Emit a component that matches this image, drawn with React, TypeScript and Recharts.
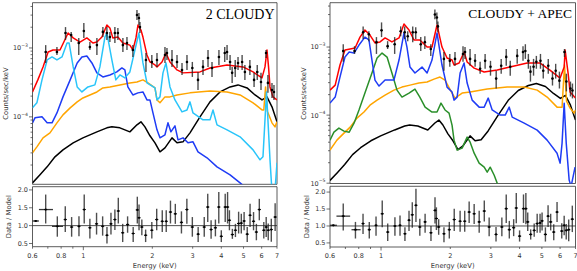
import React from 'react';
import { ComposedChart, Line, Scatter, XAxis, YAxis, ErrorBar, ReferenceLine, ReferenceArea } from 'recharts';

type P = [number, number];
type D = [number, number, number, number];

// ---------- tick labels ----------
const energyTicks = [0.6, 0.7, 0.8, 0.9, 1, 2, 3, 4, 5, 6, 7];
const energyLabels = [0.6, 0.8, 1, 2, 3, 4, 5, 6, 7];
const countTicksLeft = [2e-5, 3e-5, 4e-5, 5e-5, 6e-5, 7e-5, 8e-5, 9e-5, 1e-4, 2e-4, 3e-4, 4e-4, 5e-4, 6e-4, 7e-4, 8e-4, 9e-4, 1e-3, 2e-3, 3e-3, 4e-3];
const countTicksRight = [1e-5, ...countTicksLeft];
const ratioTicks = [0.5, 1.0, 1.5, 2.0];

// ---------- model components (E keV, counts/sec/keV) ----------
const blackModel: P[] = [
  [0.6, 1.1e-5], [0.647, 1.44e-5], [0.695, 1.88e-5], [0.752, 2.63e-5], [0.815, 3.32e-5], [0.903, 4.2e-5],
  [0.996, 4.96e-5], [1.146, 6.06e-5], [1.267, 6.93e-5], [1.332, 7.16e-5], [1.444, 6.93e-5], [1.596, 6.06e-5],
  [1.714, 7.66e-5], [1.784, 8.47e-5], [1.857, 7.16e-5], [1.953, 5.31e-5], [2.054, 4.2e-5], [2.16, 3.11e-5],
  [2.271, 3.55e-5], [2.437, 4.96e-5], [2.563, 4.2e-5], [2.722, 4.34e-5], [2.92, 5.86e-5], [3.229, 1.0e-4],
  [3.57, 1.65e-4], [3.948, 2.3e-4], [4.368, 2.72e-4], [4.732, 2.91e-4], [5.181, 2.63e-4], [5.615, 2.08e-4],
  [6.02, 1.76e-4], [6.33, 1.95e-4], [6.656, 1.4e-4], [7.0, 8.47e-5],
];

const orangeLeft: P[] = [
  [0.6, 3.01e-5], [0.627, 3.67e-5], [0.667, 4.96e-5], [0.715, 5.86e-5], [0.767, 8.19e-5], [0.815, 1.07e-4],
  [0.876, 1.35e-4], [0.94, 1.65e-4], [0.996, 1.88e-4], [1.068, 2.08e-4], [1.146, 2.3e-4], [1.217, 2.63e-4],
  [1.306, 2.72e-4], [1.444, 2.91e-4], [1.596, 3.11e-4], [1.714, 3.21e-4], [1.82, 3.44e-4], [1.914, 3.11e-4],
  [2.054, 2.63e-4], [2.096, 1.76e-4], [2.16, 1.6e-4], [2.271, 1.95e-4], [2.388, 1.95e-4], [2.563, 2.08e-4],
  [2.92, 2.23e-4], [3.57, 2.38e-4], [4.238, 2.3e-4], [4.829, 2.08e-4], [5.503, 1.6e-4], [6.02, 1.26e-4],
  [6.13, 1.26e-4], [6.24, 2.72e-4], [6.36, 1.2e-4], [6.656, 8.19e-5], [6.86, 7.16e-5], [7.0, 8.47e-5],
];

const orangeRight: P[] = [
  [0.6, 3.06e-5], [0.643, 4.29e-5], [0.69, 5.44e-5], [0.734, 6.66e-5], [0.786, 9.04e-5], [0.843, 1.11e-4],
  [0.895, 1.4e-4], [0.961, 1.66e-4], [1.041, 1.97e-4], [1.138, 2.33e-4], [1.233, 2.58e-4], [1.336, 2.76e-4],
  [1.461, 2.96e-4], [1.585, 3.06e-4], [1.699, 3.38e-4], [1.804, 3.62e-4], [1.897, 3.27e-4], [2.035, 2.11e-4],
  [2.097, 1.78e-4], [2.251, 2.11e-4], [2.439, 2.18e-4], [2.893, 2.41e-4], [3.534, 2.58e-4], [4.189, 2.58e-4],
  [4.77, 2.33e-4], [5.27, 1.84e-4], [5.82, 1.31e-4], [6.12, 1.31e-4], [6.27, 5.5e-4], [6.4, 1.6e-4],
  [6.63, 1.27e-4], [6.9, 1.07e-4], [7.0, 1.19e-4],
];

const redLeft: P[] = [
  [0.6, 2.3e-4], [0.633, 3.44e-4], [0.667, 5.31e-4], [0.702, 8.75e-4], [0.737, 9.35e-4], [0.791, 9.35e-4],
  [0.822, 1.22e-3], [0.858, 1.65e-3], [0.903, 1.4e-3], [0.967, 1.22e-3], [1.036, 1.4e-3], [1.101, 1.18e-3],
  [1.146, 1.22e-3], [1.205, 1.44e-3], [1.267, 2.15e-3], [1.306, 1.95e-3], [1.345, 1.4e-3], [1.415, 1.44e-3],
  [1.488, 1.18e-3], [1.596, 1.1e-3], [1.645, 9.35e-4], [1.697, 1.4e-3], [1.731, 2.15e-3], [1.784, 1.82e-3],
  [1.82, 1.44e-3], [1.895, 7.92e-4], [1.953, 6.27e-4], [2.054, 5.67e-4], [2.096, 5.31e-4], [2.204, 6.27e-4],
  [2.294, 8.47e-4], [2.388, 6.27e-4], [2.563, 4.8e-4], [2.722, 4.35e-4], [3.229, 4.49e-4], [3.57, 5.13e-4],
  [4.238, 5.67e-4], [4.977, 5.31e-4], [5.503, 4.49e-4], [6.02, 3.68e-4], [6.204, 5.31e-4], [6.33, 9.35e-4],
  [6.43, 5.31e-4], [6.524, 2.72e-4], [6.723, 1.95e-4], [7.0, 1.76e-4],
];

const redRight: P[] = [
  [0.6, 2.33e-4], [0.632, 2.76e-4], [0.663, 5.44e-4], [0.697, 9.04e-4], [0.734, 9.35e-4], [0.771, 9.67e-4],
  [0.81, 1.4e-3], [0.851, 1.78e-3], [0.895, 1.5e-3], [0.941, 1.15e-3], [0.99, 1.19e-3], [1.041, 1.36e-3],
  [1.115, 1.19e-3], [1.197, 1.36e-3], [1.258, 2.18e-3], [1.323, 1.78e-3], [1.39, 1.27e-3], [1.474, 1.27e-3],
  [1.585, 1.0e-3], [1.665, 1.0e-3], [1.751, 2.11e-3], [1.84, 1.0e-3], [1.936, 6.89e-4], [2.035, 6.44e-4],
  [2.076, 5.44e-4], [2.184, 5.82e-4], [2.296, 8.44e-4], [2.367, 6.02e-4], [2.539, 4.91e-4], [2.807, 4.29e-4],
  [3.198, 4.59e-4], [3.63, 5.08e-4], [4.316, 5.82e-4], [4.913, 5.82e-4], [5.42, 4.59e-4], [6.0, 3.5e-4],
  [6.25, 5.08e-4], [6.31, 9.04e-4], [6.5, 4.15e-4], [6.63, 2.18e-4], [7.0, 1.78e-4],
];

const cyanLeft: P[] = [
  [0.6, 1.35e-4], [0.627, 1.6e-4], [0.66, 3.44e-4], [0.695, 6.7e-4], [0.73, 7.41e-4], [0.767, 6.7e-4],
  [0.807, 7.41e-4], [0.849, 1.18e-3], [0.867, 1.18e-3], [0.903, 5.31e-4], [0.94, 2.72e-4], [0.986, 2.3e-4],
  [1.047, 2.72e-4], [1.123, 2.91e-4], [1.181, 5.31e-4], [1.242, 1.44e-3], [1.267, 1.65e-3], [1.332, 6.7e-4],
  [1.386, 3.44e-4], [1.444, 4.06e-4], [1.518, 3.68e-4], [1.596, 4.49e-4], [1.679, 9.35e-4], [1.748, 1.65e-3],
  [1.82, 6.06e-4], [1.895, 3.11e-4], [2.054, 2.63e-4], [2.096, 1.76e-4], [2.16, 1.95e-4], [2.226, 4.35e-4],
  [2.294, 6.06e-4], [2.388, 2.72e-4], [2.511, 1.76e-4], [2.695, 1.18e-4], [2.833, 1.26e-4], [2.92, 1.65e-4],
  [3.01, 1.14e-4], [3.328, 9.05e-5], [3.57, 9.05e-5], [3.68, 1.26e-4], [3.831, 7.66e-5], [4.238, 6.48e-5],
  [4.829, 5.13e-5], [5.503, 3.32e-5], [5.9, 2.38e-5], [6.08, 2.63e-5], [6.204, 9.05e-5], [6.3, 2.3e-4],
  [6.39, 9.05e-5], [6.524, 2.38e-5], [6.66, 8e-6], [6.85, 8e-6], [7.0, 2.15e-5],
];

const blueLeft: P[] = [
  [0.6, 8.19e-5], [0.615, 9.68e-5], [0.66, 1.0e-4], [0.695, 8.19e-5], [0.73, 8.19e-5], [0.767, 1.14e-4],
  [0.815, 1.95e-4], [0.876, 3.44e-4], [0.94, 6.06e-4], [0.986, 7.41e-4], [1.036, 7.66e-4], [1.09, 6.06e-4],
  [1.146, 4.35e-4], [1.217, 3.8e-4], [1.306, 4.06e-4], [1.4, 4.49e-4], [1.473, 5.13e-4], [1.518, 4.8e-4],
  [1.564, 2.72e-4], [1.645, 2.08e-4], [1.731, 2.23e-4], [1.82, 2.3e-4], [1.895, 1.76e-4], [1.953, 1.76e-4],
  [2.013, 1.14e-4], [2.096, 6.48e-5], [2.16, 4.96e-5], [2.271, 5.49e-5], [2.34, 8.19e-5], [2.41, 6.06e-5],
  [2.511, 7.41e-5], [2.589, 4.64e-5], [2.722, 4.96e-5], [2.862, 4.2e-5], [3.01, 4.34e-5], [3.165, 3.11e-5],
  [3.464, 2.55e-5], [3.831, 1.88e-5], [4.368, 1.44e-5], [4.829, 1.1e-5], [5.3, 8.5e-6],
];

const blueRight: P[] = [
  [0.6, 1.5e-4], [0.632, 1.84e-4], [0.663, 3.62e-4], [0.697, 7.13e-4], [0.727, 8.44e-4], [0.763, 8.16e-4],
  [0.802, 1.07e-3], [0.851, 1.4e-3], [0.886, 1.27e-3], [0.913, 6.44e-4], [0.941, 3.27e-4], [0.98, 2.67e-4],
  [1.041, 3.27e-4], [1.138, 3.27e-4], [1.197, 6.44e-4], [1.258, 1.61e-3], [1.296, 1.0e-3], [1.336, 5.08e-4],
  [1.404, 4.15e-4], [1.507, 5.08e-4], [1.585, 4.15e-4], [1.665, 6.44e-4], [1.751, 1.61e-3], [1.84, 5.44e-4],
  [1.936, 2.58e-4], [2.035, 2.18e-4], [2.076, 1.66e-4], [2.141, 1.84e-4], [2.206, 4.15e-4], [2.296, 5.82e-4],
  [2.367, 2.96e-4], [2.489, 1.66e-4], [2.669, 1.31e-4], [2.807, 1.31e-4], [2.922, 1.78e-4], [3.041, 1.19e-4],
  [3.295, 1.0e-4], [3.463, 1.0e-4], [3.606, 1.31e-4], [3.715, 9.35e-5], [4.189, 7.62e-5], [4.77, 6.02e-5],
  [5.27, 4.29e-5], [5.82, 2.76e-5], [6.0, 1.97e-5], [6.12, 3.88e-5], [6.25, 1.5e-4], [6.38, 3.88e-5],
  [6.57, 1.11e-5], [6.7, 9e-6], [6.97, 1.72e-5],
];

const greenRight: P[] = [
  [0.6, 4.29e-5], [0.624, 5.62e-5], [0.656, 6.44e-5], [0.69, 5.82e-5], [0.727, 5.62e-5], [0.763, 7.62e-5],
  [0.802, 1.19e-4], [0.851, 2.11e-4], [0.913, 4.15e-4], [0.961, 6.89e-4], [1.01, 8.16e-4], [1.062, 7.13e-4],
  [1.115, 4.15e-4], [1.173, 2.33e-4], [1.233, 1.84e-4], [1.323, 2.11e-4], [1.404, 2.41e-4], [1.474, 1.84e-4],
  [1.554, 1.31e-4], [1.665, 1.11e-4], [1.751, 1.11e-4], [1.822, 1.5e-4], [1.897, 1.19e-4], [1.975, 1.07e-4],
  [2.035, 7.13e-5], [2.076, 4.29e-5], [2.141, 3.06e-5], [2.251, 3.27e-5], [2.367, 4.75e-5], [2.439, 4.01e-5],
  [2.539, 2.76e-5], [2.669, 1.97e-5], [2.807, 1.72e-5], [2.893, 1.45e-5], [2.981, 1.72e-5], [3.103, 1.31e-5],
  [3.198, 1.0e-5], [3.26, 8e-6],
];

// ---------- observed spectrum: E, rate, lower, upper ----------
const spectrum: D[] = [
  [0.685, 8.75e-4, 6.06e-4, 1.1e-3], [0.767, 8.75e-4, 7.92e-4, 1.03e-3], [0.836, 1.65e-3, 1.31e-3, 2.01e-3],
  [0.885, 1.54e-3, 1.22e-3, 1.71e-3], [0.955, 1.18e-3, 7.92e-4, 1.4e-3], [1.005, 1.76e-3, 1.4e-3, 2.3e-3],
  [1.068, 1.03e-3, 9.35e-4, 1.22e-3], [1.146, 1.1e-3, 7.92e-4, 1.4e-3], [1.217, 1.71e-3, 1.44e-3, 2.01e-3],
  [1.267, 1.65e-3, 1.31e-3, 2.01e-3], [1.306, 1.44e-3, 1.22e-3, 1.71e-3], [1.373, 1.65e-3, 1.18e-3, 2.01e-3],
  [1.415, 1.65e-3, 1.31e-3, 1.95e-3], [1.488, 1.1e-3, 8.75e-4, 1.4e-3], [1.55, 1.18e-3, 9.35e-4, 1.44e-3],
  [1.645, 9.35e-4, 7.41e-4, 1.1e-3], [1.714, 3.01e-3, 2.55e-3, 3.56e-3], [1.748, 2.72e-3, 2.15e-3, 3.21e-3],
  [1.766, 2.01e-3, 1.65e-3, 2.38e-3], [1.876, 6.7e-4, 4.49e-4, 8.47e-4], [1.99, 6.27e-4, 5.13e-4, 7.92e-4],
  [2.096, 6.7e-4, 5.31e-4, 8.47e-4], [2.271, 7.92e-4, 6.06e-4, 1.03e-3], [2.317, 8.47e-4, 6.7e-4, 1.0e-3],
  [2.437, 6.7e-4, 5.31e-4, 9.35e-4], [2.563, 6.27e-4, 5.13e-4, 7.92e-4], [2.695, 4.8e-4, 4.06e-4, 6.06e-4],
  [2.833, 6.27e-4, 4.8e-4, 7.92e-4], [2.99, 5.13e-4, 3.8e-4, 6.27e-4], [3.165, 3.44e-4, 2.46e-4, 4.49e-4],
  [3.328, 5.31e-4, 4.06e-4, 6.7e-4], [3.5, 7.16e-4, 5.31e-4, 9.35e-4], [3.643, 5.13e-4, 3.8e-4, 6.27e-4],
  [3.906, 7.41e-4, 5.67e-4, 9.35e-4], [4.14, 8.47e-4, 6.27e-4, 1.03e-3], [4.238, 8.75e-4, 6.7e-4, 1.1e-3],
  [4.368, 6.27e-4, 4.8e-4, 7.92e-4], [4.46, 4.35e-4, 3.11e-4, 5.31e-4], [4.6, 5.13e-4, 3.8e-4, 6.7e-4],
  [4.732, 6.06e-4, 4.8e-4, 7.41e-4], [4.93, 6.27e-4, 4.8e-4, 7.92e-4], [5.07, 4.49e-4, 3.44e-4, 5.67e-4],
  [5.33, 5.31e-4, 4.06e-4, 6.7e-4], [5.56, 3.44e-4, 2.72e-4, 4.35e-4], [5.74, 4.49e-4, 3.44e-4, 5.67e-4],
  [5.96, 3.21e-4, 2.46e-4, 4.35e-4], [6.27, 8.47e-4, 7.16e-4, 9.35e-4], [6.39, 3.11e-4, 2.23e-4, 4.06e-4],
  [6.656, 2.46e-4, 1.88e-4, 3.11e-4], [6.79, 2.3e-4, 1.76e-4, 2.91e-4],
];

// ---------- residuals: E, ratio, lower, upper ----------
const residLeft: D[] = [
  [0.62, 1.13, 1.13, 1.13], [0.685, 1.45, 1.06, 1.87], [0.77, 0.98, 0.69, 1.26], [0.834, 1.17, 0.82, 1.54],
  [0.889, 0.96, 0.69, 1.24], [0.957, 0.98, 0.7, 1.26], [1.009, 1.45, 1.06, 1.87], [1.068, 0.94, 0.64, 1.19],
  [1.142, 1.05, 0.75, 1.36], [1.214, 0.98, 0.72, 1.26], [1.268, 0.73, 0.5, 0.96], [1.32, 1.05, 0.75, 1.36],
  [1.373, 1.17, 0.88, 1.45], [1.421, 1.41, 1.06, 1.78], [1.485, 0.8, 0.54, 1.05], [1.56, 1.03, 0.8, 1.26],
  [1.65, 0.78, 0.54, 0.96], [1.72, 1.44, 1.06, 1.81], [1.75, 1.22, 0.87, 1.59], [1.8, 0.96, 0.73, 1.17],
  [1.87, 0.73, 0.54, 0.89], [1.99, 0.87, 0.64, 1.1], [2.09, 1.17, 0.87, 1.47], [2.21, 1.12, 0.82, 1.43],
  [2.3, 1.12, 0.82, 1.43], [2.4, 1.38, 1.06, 1.7], [2.52, 1.33, 1.05, 1.61], [2.68, 1.09, 0.78, 1.4],
  [2.83, 1.45, 1.05, 1.75], [2.99, 0.96, 0.69, 1.24], [3.17, 0.76, 0.54, 0.96], [3.37, 0.96, 0.69, 1.24],
  [3.49, 1.52, 1.1, 1.89], [3.61, 0.89, 0.63, 1.15], [3.77, 0.94, 0.7, 1.17], [3.9, 1.52, 1.06, 1.94],
  [4.0, 0.7, 0.54, 0.87], [4.16, 1.52, 1.1, 1.89], [4.26, 1.52, 1.06, 1.94], [4.34, 1.15, 0.87, 1.43],
  [4.47, 0.75, 0.63, 0.91], [4.61, 0.87, 0.68, 1.05], [4.76, 1.06, 0.78, 1.39], [4.89, 1.07, 0.78, 1.33],
  [5.03, 1.13, 0.87, 1.38], [5.19, 0.76, 0.54, 0.96], [5.34, 1.29, 0.96, 1.61], [5.53, 1.12, 0.87, 1.38],
  [5.69, 0.82, 0.59, 1.05], [5.86, 1.45, 1.15, 1.75], [6.13, 0.87, 0.64, 1.1], [6.28, 0.96, 0.68, 1.24],
  [6.41, 0.87, 0.59, 1.06], [6.61, 0.89, 0.55, 1.19], [6.87, 1.24, 0.85, 1.63],
];
const residLeftBins: P[] = [[0.6, 0.64], [0.64, 0.737], [0.73, 0.815]];

const residRight: D[] = [
  [0.62, 1.02, 1.02, 1.02], [0.685, 1.29, 0.87, 1.66], [0.774, 0.89, 0.63, 1.12], [0.835, 1.07, 0.76, 1.36],
  [0.889, 0.89, 0.63, 1.12], [0.951, 1.02, 0.71, 1.28], [1.012, 1.36, 0.96, 1.75], [1.069, 0.82, 0.56, 1.07],
  [1.149, 1.0, 0.71, 1.26], [1.209, 1.02, 0.71, 1.31], [1.27, 0.77, 0.56, 0.96], [1.323, 1.17, 0.85, 1.45],
  [1.367, 1.33, 0.95, 1.7], [1.418, 1.61, 1.12, 2.1], [1.474, 0.97, 0.71, 1.21], [1.554, 1.12, 0.8, 1.36],
  [1.648, 0.8, 0.56, 1.0], [1.716, 1.46, 1.07, 1.85], [1.74, 1.22, 0.88, 1.55], [1.78, 0.97, 0.74, 1.2],
  [1.877, 0.77, 0.52, 0.96], [1.98, 0.89, 0.63, 1.12], [2.08, 1.19, 0.85, 1.51], [2.206, 1.14, 0.83, 1.45],
  [2.31, 1.14, 0.83, 1.45], [2.415, 1.41, 1.09, 1.72], [2.539, 1.36, 1.06, 1.65], [2.67, 1.12, 0.8, 1.45],
  [2.81, 1.44, 1.13, 1.75], [2.95, 0.97, 0.7, 1.25], [3.16, 0.75, 0.54, 0.97], [3.35, 0.97, 0.7, 1.25],
  [3.5, 1.51, 1.09, 1.93], [3.61, 0.89, 0.63, 1.15], [3.77, 0.95, 0.7, 1.2], [3.87, 1.53, 1.08, 1.97],
  [4.0, 0.7, 0.54, 0.87], [4.16, 1.51, 1.09, 1.93], [4.26, 1.51, 1.05, 1.97], [4.34, 1.12, 0.85, 1.4],
  [4.47, 0.75, 0.6, 0.9], [4.63, 0.87, 0.68, 1.07], [4.77, 1.07, 0.8, 1.36], [4.91, 1.09, 0.8, 1.36],
  [5.01, 1.15, 0.87, 1.4], [5.18, 0.75, 0.54, 0.96], [5.32, 1.29, 0.97, 1.61], [5.46, 1.12, 0.87, 1.36],
  [5.63, 0.82, 0.58, 1.05], [5.82, 1.41, 1.12, 1.71], [6.1, 0.85, 0.63, 1.08], [6.25, 1.02, 0.73, 1.3],
  [6.38, 0.87, 0.6, 1.06], [6.54, 0.89, 0.55, 1.19], [6.78, 1.2, 0.82, 1.6],
];
const residRightBins: P[] = [[0.6, 0.643], [0.64, 0.734], [0.744, 0.815]];

// ---------- helpers ----------
const toPts = (arr: P[]) => arr.map(([E, v]) => ({ E, v }));
const toData = (arr: D[], bins: P[] = []) =>
  arr.map(([E, v, lo, hi], i) => {
    const b = bins[i];
    return { E, v, ey: [v - lo, hi - v], ex: b ? [E - b[0], b[1] - E] : [0, 0] };
  });

const TICK_FONT = 'DejaVu Sans, sans-serif';
const TICK_COLOR = '#333';

const LogYTick = (props: any) => {
  const { x, y, payload } = props;
  const v = payload.value as number;
  const lg = Math.log10(v);
  const exp = Math.round(lg);
  const major = Math.abs(lg - exp) < 1e-6;
  return (
    <g>
      <line x1={x - (major ? 3.5 : 2)} x2={x} y1={y} y2={y} stroke={TICK_COLOR} strokeWidth={0.7} />
      {major && (
        <text x={x - 4.5} y={y + 2.4} textAnchor="end" fontSize={6.5} fill={TICK_COLOR} fontFamily={TICK_FONT}>
          10<tspan dy={-3.2} fontSize={4.6}>{'\u2212' + String(-exp)}</tspan>
        </text>
      )}
    </g>
  );
};

const RatioYTick = (props: any) => {
  const { x, y, payload } = props;
  return (
    <g>
      <line x1={x - 3.5} x2={x} y1={y} y2={y} stroke={TICK_COLOR} strokeWidth={0.7} />
      <text x={x - 4.5} y={y + 2.3} textAnchor="end" fontSize={6.5} fill={TICK_COLOR} fontFamily={TICK_FONT}>
        {(payload.value as number).toFixed(1)}
      </text>
    </g>
  );
};

const EnergyXTick = (props: any) => {
  const { x, y, payload } = props;
  const v = payload.value as number;
  const major = v === 1;
  const labeled = energyLabels.includes(v);
  return (
    <g>
      <line x1={x} x2={x} y1={y} y2={y + (major ? 3.5 : 2)} stroke={TICK_COLOR} strokeWidth={0.7} />
      {labeled && (
        <text x={x} y={y + 10.8} textAnchor="middle" fontSize={6.5} fill={TICK_COLOR} fontFamily={TICK_FONT}>
          {String(v)}
        </text>
      )}
    </g>
  );
};

const DataDot = (p: any) => {
  if (p.cx == null || p.cy == null) return <g />;
  return <circle cx={p.cx} cy={p.cy} r={1.3} fill="#000" />;
};
const ResDot = (p: any) => {
  if (p.cx == null || p.cy == null) return <g />;
  return (
    <g>
      <line x1={p.cx - 1.6} x2={p.cx + 1.6} y1={p.cy} y2={p.cy} stroke="#111" strokeWidth={1} />
      <circle cx={p.cx} cy={p.cy} r={1.1} fill="#000" />
    </g>
  );
};

type Model = { data: P[]; color: string };

type PanelProps = {
  x0: number;
  width: number;
  plotLeft: number;
  plotRight: number;
  mainBottom: number;
  residTop: number;
  residBottom: number;
  yDomain: [number, number];
  rDomain: [number, number];
  countTicks: number[];
  models: Model[];
  resid: D[];
  bins: P[];
};

const Panel = (pp: PanelProps) => {
  const mainH = 187;
  const resTop0 = 184;
  const resH = 271 - resTop0;
  const yAxisW = pp.plotLeft - pp.x0;
  const rightM = pp.x0 + pp.width - pp.plotRight;
  const spec = toData(spectrum);
  const res = toData(pp.resid, pp.bins);
  return (
    <>
      <div style={{ position: 'absolute', left: pp.x0, top: 0 }}>
        <ComposedChart width={pp.width} height={mainH} margin={{ top: 2.7, right: rightM, left: 0, bottom: mainH - pp.mainBottom }}>
          <XAxis dataKey="E" type="number" scale="log" domain={[0.6, 7]} allowDataOverflow hide />
          <YAxis
            type="number"
            scale="log"
            domain={pp.yDomain}
            allowDataOverflow
            width={yAxisW}
            ticks={pp.countTicks}
            interval={0}
            tickSize={0}
            tickMargin={0}
            axisLine={false}
            tickLine={false}
            tick={<LogYTick />}
          />
          {pp.models.map((m, i) => (
            <Line
              key={i}
              data={toPts(m.data)}
              dataKey="v"
              type="linear"
              stroke={m.color}
              strokeWidth={1.5}
              strokeLinejoin="round"
              dot={false}
              isAnimationActive={false}
            />
          ))}
          <Scatter data={spec} dataKey="v" shape={<DataDot />} isAnimationActive={false}>
            <ErrorBar dataKey="ey" direction="y" width={0} stroke="#222" strokeWidth={1.4} strokeOpacity={0.8} />
          </Scatter>
          <ReferenceArea x1={0.6} x2={7} y1={pp.yDomain[0]} y2={pp.yDomain[1]} fill="none" stroke="#333" strokeWidth={0.8} ifOverflow="visible" />
        </ComposedChart>
      </div>
      <div style={{ position: 'absolute', left: pp.x0, top: resTop0 }}>
        <ComposedChart width={pp.width} height={resH} margin={{ top: pp.residTop - resTop0, right: rightM, left: 0, bottom: 0 }}>
          <XAxis
            dataKey="E"
            type="number"
            scale="log"
            domain={[0.6, 7]}
            allowDataOverflow
            ticks={energyTicks}
            interval={0}
            height={271 - pp.residBottom}
            tickSize={0}
            tickMargin={0}
            axisLine={false}
            tickLine={false}
            tick={<EnergyXTick />}
          />
          <YAxis
            type="number"
            domain={pp.rDomain}
            allowDataOverflow
            width={yAxisW}
            ticks={ratioTicks}
            interval={0}
            tickSize={0}
            tickMargin={0}
            axisLine={false}
            tickLine={false}
            tick={<RatioYTick />}
          />
          <ReferenceLine y={1} stroke="#222" strokeWidth={0.8} />
          <Scatter data={res} dataKey="v" shape={<ResDot />} isAnimationActive={false}>
            <ErrorBar dataKey="ey" direction="y" width={0} stroke="#222" strokeWidth={1.4} strokeOpacity={0.8} />
            <ErrorBar dataKey="ex" direction="x" width={0} stroke="#222" strokeWidth={1.3} strokeOpacity={0.9} />
          </Scatter>
          <ReferenceArea x1={0.6} x2={7} y1={pp.rDomain[0]} y2={pp.rDomain[1]} fill="none" stroke="#333" strokeWidth={0.8} ifOverflow="visible" />
        </ComposedChart>
      </div>
    </>
  );
};

const RED = '#ff0000';
const CYAN = '#29c5fa';
const BLUE = '#1f3cf5';
const GREEN = '#2a8f2a';
const ORANGE = '#ffa500';
const BLACK = '#000000';

export default function App() {
  const labelStyle = { fontFamily: TICK_FONT, fontSize: 6.8, fill: '#333' } as const;
  return (
    <div style={{ position: 'absolute', left: 0, top: 0, width: 577, height: 271, background: '#fff', overflow: 'hidden' }}>
      <Panel
        x0={0}
        width={290}
        plotLeft={32.5}
        plotRight={277}
        mainBottom={184.3}
        residTop={186.7}
        residBottom={246.7}
        yDomain={[1.05e-5, 4.54e-3]}
        rDomain={[0.41, 2.09]}
        countTicks={countTicksLeft}
        models={[
          { data: blackModel, color: BLACK },
          { data: orangeLeft, color: ORANGE },
          { data: blueLeft, color: BLUE },
          { data: cyanLeft, color: CYAN },
          { data: redLeft, color: RED },
        ]}
        resid={residLeft}
        bins={residLeftBins}
      />
      <Panel
        x0={290}
        width={287}
        plotLeft={330}
        plotRight={575.5}
        mainBottom={183.5}
        residTop={186.3}
        residBottom={247}
        yDomain={[0.99e-5, 4.48e-3]}
        rDomain={[0.38, 2.17]}
        countTicks={countTicksRight}
        models={[
          { data: blackModel, color: BLACK },
          { data: orangeRight, color: ORANGE },
          { data: greenRight, color: GREEN },
          { data: blueRight, color: BLUE },
          { data: redRight, color: RED },
        ]}
        resid={residRight}
        bins={residRightBins}
      />
      <svg width={577} height={271} style={{ position: 'absolute', left: 0, top: 0, pointerEvents: 'none' }}>
        <text x={274.5} y={18.5} textAnchor="end" fontFamily="Liberation Serif, serif" fontSize={14} fill="#000">2 CLOUDY</text>
        <text x={572} y={17.5} textAnchor="end" fontFamily="Liberation Serif, serif" fontSize={13.5} fill="#000">CLOUDY + APEC</text>
        <text x={6} y={93.5} transform="rotate(-90 6 93.5)" textAnchor="middle" dominantBaseline="central" {...labelStyle}>Counts/sec/keV</text>
        <text x={303.5} y={93.5} transform="rotate(-90 303.5 93.5)" textAnchor="middle" dominantBaseline="central" {...labelStyle}>Counts/sec/keV</text>
        <text x={9.5} y={216.7} transform="rotate(-90 9.5 216.7)" textAnchor="middle" dominantBaseline="central" {...labelStyle}>Data / Model</text>
        <text x={307} y={216.7} transform="rotate(-90 307 216.7)" textAnchor="middle" dominantBaseline="central" {...labelStyle}>Data / Model</text>
        <text x={154.7} y={267.5} textAnchor="middle" {...labelStyle}>Energy (keV)</text>
        <text x={452.7} y={267.5} textAnchor="middle" {...labelStyle}>Energy (keV)</text>
      </svg>
    </div>
  );
}
